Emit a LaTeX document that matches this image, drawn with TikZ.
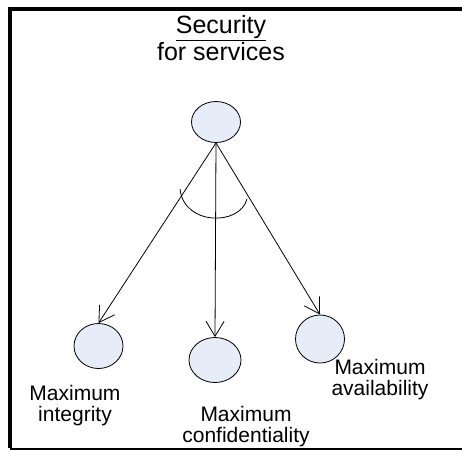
\documentclass[tikz,border=0pt]{standalone}
\usepackage{fontspec}
\setmainfont{Liberation Sans}
\usetikzlibrary{shapes.geometric, arrows.meta}

\definecolor{goalfill}{RGB}{230,236,248}

\begin{document}
\begin{tikzpicture}[x=1pt, y=-1pt, line width=0.8pt,
        goal/.style={ellipse, draw, fill=goalfill, inner sep=0pt, minimum width=49pt, minimum height=45pt},
        label/.style={align=center, inner sep=0pt, font=\fontsize{21}{21}\selectfont},
        refine/.style={-{Straight Barb[length=15pt, width=18pt]}}]
        \useasboundingbox (0,0) rectangle (462,451);
        \fill[white] (0,0) rectangle (462,451);

        % Frame
        \draw[line width=4pt] (462,9) -- (10,9) -- (10,448);
        \draw[line width=2pt] (10,448.5) -- (462,448.5);

        % Define the nodes
        \node[align=center, inner sep=0pt, font=\fontsize{25}{27}\selectfont] (title) at (221,38) {\underline{Security}\\for services};
        \node[goal, minimum height=41pt] (top) at (216,122) {};
        \node[goal] (integ) at (98.5,346) {};
        \node[goal, minimum width=52pt] (confid) at (215,360) {};
        \node[goal, minimum height=48pt] (avail) at (320,339) {};

        \node[label] (integ-l) at (75,406) {Maximum\\integrity};
        \node[label] (confid-l) at (246,427) {Maximum\\confidentiality};
        \node[label] (avail-l) at (380,380) {Maximum\\availability};

        % Define the arrows
        \draw[refine] (top.south) -- (integ.north);
        \draw[refine] (top.south) -- (confid.north);
        \draw[refine] (top.south) -- (avail.north);

        % AND arc
        \draw (180,189) .. controls (184,226) and (240,226) .. (247,199);
\end{tikzpicture}
\end{document}
